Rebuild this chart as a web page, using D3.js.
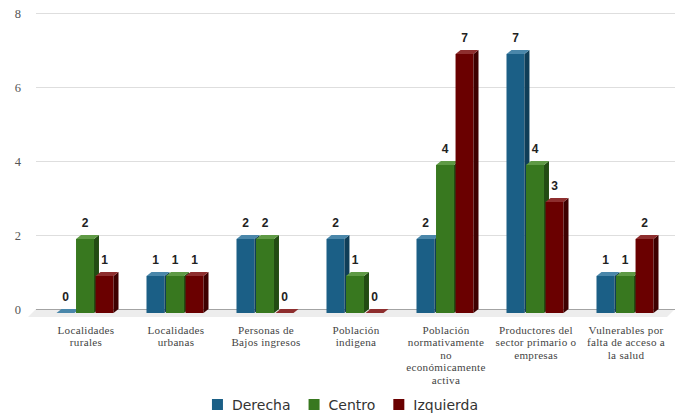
<!DOCTYPE html>
<html>
<head>
<meta charset="utf-8">
<script src="https://cdn.jsdelivr.net/npm/d3@7"></script>
<style>
  html, body { margin: 0; padding: 0; background: #fff; }
  svg { display: block; }
</style>
</head>
<body>
<svg id="chart" width="675" height="416"></svg>
<script>
// Category names (line breaks mark how each label wraps)
const categories = [
  "Localidades\nrurales",
  "Localidades\nurbanas",
  "Personas de\nBajos ingresos",
  "Población\nindigena",
  "Población\nnormativamente\nno\neconómicamente\nactiva",
  "Productores del\nsector primario o\nempresas",
  "Vulnerables por\nfalta de acceso a\nla salud"
];
const seriesNames = ["Derecha", "Centro", "Izquierda"];
const derecha   = [0, 1, 2, 2, 2, 7, 1];
const centro    = [2, 1, 2, 1, 4, 4, 1];
const izquierda = [1, 1, 0, 0, 7, 3, 2];
const yTicks = [0, 2, 4, 6, 8];

const seriesValues = [derecha, centro, izquierda];
const palette = {
  Derecha:   { front: "#1b5f86", top: "#4a87aa", side: "#0f3e58" },
  Centro:    { front: "#38781f", top: "#5f9a45", side: "#224c13" },
  Izquierda: { front: "#6a0000", top: "#8e2e2e", side: "#3e0000" }
};

const svg = d3.select("#chart");
const depthX = 5, depthY = 4;

const y = d3.scaleLinear().domain([0, 8]).range([309, 13]);
const x0 = d3.scaleBand().domain(categories).range([41, 671]).padding(0);
const x1 = d3.scaleBand().domain(seriesNames).range([0, 57]).paddingInner(0.08).paddingOuter(0);

// Floor under the baseline
svg.append("polygon")
  .attr("points", [[36, y(0)], [675, y(0)], [667, y(0) + 8], [28, y(0) + 8]].map(p => p.join(",")).join(" "))
  .attr("fill", "#ededed");

// Horizontal gridlines
svg.append("g").selectAll("line")
  .data(yTicks.filter(t => t > 0))
  .join("line")
  .attr("x1", 36).attr("x2", 675)
  .attr("y1", d => Math.round(y(d)) + 0.5).attr("y2", d => Math.round(y(d)) + 0.5)
  .attr("stroke", "#dedede").attr("stroke-width", 1);

// Baseline
svg.append("line")
  .attr("x1", 36).attr("x2", 675)
  .attr("y1", y(0) + 0.5).attr("y2", y(0) + 0.5)
  .attr("stroke", "#a3a3a3").attr("stroke-width", 1.2);

// Y-axis tick labels
const yAxis = d3.axisLeft(y).tickValues(yTicks).tickSize(0).tickPadding(0).tickFormat(d3.format("d"));
const yg = svg.append("g").attr("transform", "translate(21,0)").call(yAxis);
yg.select(".domain").remove();
yg.selectAll("text")
  .attr("font-family", "'Liberation Serif', 'Times New Roman', serif")
  .attr("font-size", 12.5)
  .attr("fill", "#555");

// Bars
const bars = [];
categories.forEach((c, ci) => {
  seriesNames.forEach((s, si) => {
    bars.push({ cat: c, series: s, value: seriesValues[si][ci] });
  });
});

const barW = x1.bandwidth();
const groupOffset = (x0.bandwidth() - 57) / 2 - 1;

const barG = svg.append("g").selectAll("g.bar")
  .data(bars)
  .join("g")
  .attr("class", "bar");

barG.each(function(d) {
  const g = d3.select(this);
  const left = x0(d.cat) + groupOffset + x1(d.series);
  const right = left + barW;
  const yt = y(d.value) + depthY;
  const yb = y(0) + depthY;
  const col = palette[d.series];
  if (d.value > 0) {
    g.append("rect")
      .attr("x", left).attr("y", yt)
      .attr("width", barW).attr("height", yb - yt)
      .attr("fill", col.front);
    g.append("polygon")
      .attr("points", [[right, yt], [right + depthX, yt - depthY], [right + depthX, yb - depthY], [right, yb]].map(p => p.join(",")).join(" "))
      .attr("fill", col.side);
  }
  g.append("polygon")
    .attr("points", [[left, yt], [left + depthX, yt - depthY], [right + depthX, yt - depthY], [right, yt]].map(p => p.join(",")).join(" "))
    .attr("fill", col.top);
  g.append("text")
    .attr("x", left + barW / 2)
    .attr("y", y(d.value) - 8)
    .attr("text-anchor", "middle")
    .attr("font-family", "'Liberation Sans', Arial, sans-serif")
    .attr("font-weight", "bold")
    .attr("font-size", 12)
    .attr("fill", "#222")
    .text(d.value);
});

// Category labels, one text element per line
const catG = svg.append("g").selectAll("g")
  .data(categories)
  .join("g")
  .attr("transform", d => `translate(${x0(d) + x0.bandwidth() / 2},334)`);
catG.each(function(d) {
  const g = d3.select(this);
  d.split("\n").forEach((line, i) => {
    g.append("text")
      .attr("x", 0)
      .attr("y", i * 12.4)
      .attr("text-anchor", "middle")
      .attr("font-family", "'Liberation Serif', 'Times New Roman', serif")
      .attr("font-size", 11.1)
      .attr("letter-spacing", 0.3)
      .attr("fill", "#444")
      .text(line);
  });
});

// Legend
const legend = svg.append("g");
let cursor = 0;
seriesNames.forEach(s => {
  const item = legend.append("g").attr("transform", `translate(${cursor},0)`);
  item.append("rect")
    .attr("x", 0).attr("y", -6)
    .attr("width", 11).attr("height", 11)
    .attr("fill", palette[s].front);
  const txt = item.append("text")
    .attr("x", 20).attr("y", 5)
    .attr("font-family", "'DejaVu Sans', Verdana, sans-serif")
    .attr("font-size", 14)
    .attr("fill", "#333")
    .text(s);
  cursor += 20 + txt.node().getComputedTextLength() + 18;
});
const legendW = cursor - 18;
legend.attr("transform", `translate(${345 - legendW / 2},405)`);
</script>
</body>
</html>
